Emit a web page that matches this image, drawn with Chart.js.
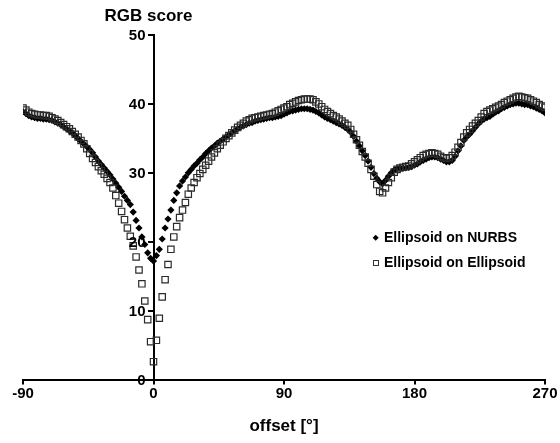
<!DOCTYPE html>
<html>
<head>
<meta charset="utf-8">
<script src="https://cdn.jsdelivr.net/npm/chart.js@4"></script>
<style>
  html, body { margin: 0; padding: 0; background: #fff; }
  #wrap { width: 560px; height: 443px; }
</style>
</head>
<body>
<div id="wrap"><canvas id="rgb-chart"></canvas></div>
<script>
// offset in degrees, one sample every 2°
const offsets = [
  -90, -88, -86, -84, -82, -80, -78, -76, -74, -72, -70, -68, -66, -64, -62, -60,
  -58, -56, -54, -52, -50, -48, -46, -44, -42, -40, -38, -36, -34, -32, -30, -28,
  -26, -24, -22, -20, -18, -16, -14, -12, -10, -8, -6, -4, -2, 0,
  2, 4, 6, 8, 10, 12, 14, 16, 18, 20, 22, 24, 26, 28, 30, 32, 34, 36, 38, 40,
  42, 44, 46, 48, 50, 52, 54, 56, 58, 60, 62, 64, 66, 68, 70, 72, 74, 76, 78, 80,
  82, 84, 86, 88, 90, 92, 94, 96, 98, 100, 102, 104, 106, 108, 110, 112, 114, 116, 118, 120,
  122, 124, 126, 128, 130, 132, 134, 136, 138, 140, 142, 144, 146, 148, 150, 152, 154, 156, 158, 160,
  162, 164, 166, 168, 170, 172, 174, 176, 178, 180, 182, 184, 186, 188, 190, 192, 194, 196, 198, 200,
  202, 204, 206, 208, 210, 212, 214, 216, 218, 220, 222, 224, 226, 228, 230, 232, 234, 236, 238, 240,
  242, 244, 246, 248, 250, 252, 254, 256, 258, 260, 262, 264, 266, 268, 270
];

const onNurbs = [
  38.9, 38.6, 38.3, 38.1, 38.0, 37.9, 37.9, 37.8, 37.8, 37.7, 37.6, 37.4, 37.2, 37.0, 36.7, 36.4,
  36.1, 35.8, 35.4, 35.0, 34.6, 34.2, 33.8, 33.4, 32.9, 32.3, 31.7, 31.2, 30.7, 30.2, 29.7, 29.1,
  28.5, 27.9, 27.3, 26.6, 26.0, 25.4, 24.3, 23.1, 22.0, 20.7, 19.6, 18.4, 17.6, 17.2,
  18.0, 18.9, 20.4, 22.0, 23.3, 24.6, 26.0, 27.1, 28.1, 28.8, 29.4, 30.0, 30.5, 31.0, 31.4, 31.9, 32.3, 32.8, 33.2, 33.6,
  33.9, 34.3, 34.6, 34.9, 35.2, 35.5, 35.8, 36.1, 36.4, 36.6, 36.8, 37.0, 37.2, 37.3, 37.5, 37.6, 37.7, 37.8, 37.9, 38.0,
  38.0, 38.1, 38.2, 38.3, 38.5, 38.7, 38.9, 39.0, 39.1, 39.2, 39.3, 39.3, 39.3, 39.2, 39.1, 38.9, 38.7, 38.4, 38.1, 37.9,
  37.7, 37.5, 37.3, 37.1, 36.9, 36.6, 36.3, 35.9, 35.3, 34.6, 33.9, 33.2, 32.5, 31.7, 30.8, 29.9, 29.2, 28.7, 28.4, 28.9,
  29.5, 30.0, 30.4, 30.6, 30.7, 30.7, 30.7, 30.8, 30.9, 31.1, 31.3, 31.6, 31.8, 32.0, 32.2, 32.3, 32.3, 32.2, 32.0, 31.8,
  31.6, 31.6, 31.8, 32.4, 33.2, 33.9, 34.7, 35.2, 35.6, 36.1, 36.6, 37.1, 37.5, 37.8, 38.0, 38.2, 38.5, 38.8, 39.0, 39.3,
  39.5, 39.7, 39.9, 40.0, 40.1, 40.1, 40.0, 39.9, 39.9, 39.7, 39.6, 39.4, 39.2, 39.0, 38.7
];

const onEllipsoid = [
  39.4, 39.1, 38.8, 38.6, 38.5, 38.4, 38.4, 38.3, 38.3, 38.2, 38.0, 37.8, 37.6, 37.3, 37.0, 36.7,
  36.4, 36.0, 35.6, 35.2, 34.7, 34.2, 33.5, 32.8, 32.1, 31.5, 30.9, 30.3, 29.8, 29.2, 28.6, 27.8,
  26.7, 25.6, 24.4, 23.2, 22.0, 20.8, 19.4, 17.8, 15.9, 13.9, 11.4, 8.7, 5.5, 2.6,
  5.7, 8.9, 12.0, 14.5, 16.7, 18.9, 20.7, 22.2, 23.5, 24.6, 25.7, 26.9, 27.8, 28.6, 29.3, 29.9, 30.5, 31.1, 31.7, 32.3,
  32.9, 33.5, 34.0, 34.5, 35.0, 35.4, 35.8, 36.2, 36.6, 36.9, 37.2, 37.5, 37.7, 37.9, 38.0, 38.1, 38.2, 38.3, 38.4, 38.5,
  38.6, 38.8, 39.0, 39.2, 39.4, 39.6, 39.9, 40.1, 40.3, 40.5, 40.6, 40.7, 40.7, 40.7, 40.6, 40.3, 40.0, 39.6, 39.2, 38.9,
  38.6, 38.3, 38.1, 37.8, 37.5, 37.2, 36.9, 36.3, 35.6, 34.8, 34.0, 33.1, 32.3, 31.4, 30.5, 29.5, 28.3, 27.3, 27.1, 27.8,
  28.6, 29.3, 30.1, 30.5, 30.7, 30.8, 30.9, 31.0, 31.3, 31.6, 31.9, 32.2, 32.5, 32.7, 32.8, 32.9, 32.8, 32.7, 32.4, 32.2,
  32.1, 32.2, 32.5, 33.0, 33.7, 34.4, 35.2, 35.8, 36.3, 36.8, 37.2, 37.6, 38.1, 38.6, 38.9, 39.1, 39.3, 39.5, 39.7, 39.9,
  40.2, 40.4, 40.6, 40.8, 41.0, 41.1, 41.0, 40.9, 40.8, 40.6, 40.4, 40.2, 39.9, 39.7, 39.5
];

const seriesNames = ['Ellipsoid on NURBS', 'Ellipsoid on Ellipsoid'];
const xTicks = [-90, 0, 90, 180, 270];
const yTicks = [0, 10, 20, 30, 40, 50];

const FONT = "'Liberation Sans', Arial, sans-serif";
Chart.defaults.font.family = FONT;
Chart.defaults.color = '#000';

function toPoints(vals) {
  return offsets.map((x, i) => ({ x: x, y: vals[i] }));
}

// y tick labels left of the centred axis, the axis caption and the legend
const decorations = {
  id: 'decorations',
  afterDraw(chart) {
    const ctx = chart.ctx;
    const yScale = chart.scales.y;
    const yAxisX = chart.scales.x.getPixelForValue(0);
    ctx.save();
    ctx.fillStyle = '#000';

    ctx.font = 'bold 15px ' + FONT;
    ctx.textAlign = 'right';
    ctx.textBaseline = 'middle';
    yTicks.forEach(v => {
      ctx.fillText(String(v), yAxisX - 8, yScale.getPixelForValue(v) + 1);
    });

    ctx.font = 'bold 17px ' + FONT;
    ctx.textAlign = 'center';
    ctx.fillText('RGB score', yAxisX - 5, 16);

    ctx.font = 'bold 14px ' + FONT;
    ctx.textAlign = 'left';
    // diamond
    ctx.beginPath();
    ctx.moveTo(375.7, 234.7);
    ctx.lineTo(378.7, 237.7);
    ctx.lineTo(375.7, 240.7);
    ctx.lineTo(372.7, 237.7);
    ctx.closePath();
    ctx.fill();
    ctx.fillText(seriesNames[0], 384, 238);
    // square
    ctx.strokeStyle = '#333';
    ctx.lineWidth = 1;
    ctx.strokeRect(373.5, 260.5, 5, 5);
    ctx.fillText(seriesNames[1], 384, 263.5);
    ctx.restore();
  }
};

new Chart(
  document.getElementById('rgb-chart'),
  {
    type: 'scatter',
    data: {
      datasets: [
        {
          label: seriesNames[0],
          data: toPoints(onNurbs),
          pointStyle: 'rectRot',
          pointRadius: 3.6,
          pointHoverRadius: 3.6,
          backgroundColor: '#000',
          borderColor: '#000',
          borderWidth: 0,
          order: 1
        },
        {
          label: seriesNames[1],
          data: toPoints(onEllipsoid),
          pointStyle: 'rect',
          pointRadius: 4.5,
          pointHoverRadius: 4.5,
          backgroundColor: 'rgba(255,255,255,0)',
          borderColor: '#2b2b2b',
          borderWidth: 1.2,
          order: 0
        }
      ]
    },
    options: {
      responsive: true,
      maintainAspectRatio: false,
      animation: false,
      events: [],
      layout: { padding: { top: 35, left: 23, right: 15, bottom: 4 } },
      plugins: {
        legend: { display: false },
        tooltip: { enabled: false }
      },
      scales: {
        x: {
          type: 'linear',
          min: -90,
          max: 270,
          afterBuildTicks: (axis) => { axis.ticks = xTicks.map(v => ({ value: v })); },
          ticks: { font: { size: 15, weight: 'bold' }, padding: 0, color: '#000' },
          grid: { display: true, drawOnChartArea: false, drawTicks: true, tickLength: 5, color: '#000', lineWidth: 2 },
          border: { display: true, color: '#000', width: 2 },
          title: {
            display: true,
            text: 'offset [°]',
            font: { size: 17, weight: 'bold' },
            color: '#000',
            padding: { top: 14, bottom: 2 }
          }
        },
        y: {
          type: 'linear',
          position: { x: 0 },
          min: 0,
          max: 50,
          afterBuildTicks: (axis) => { axis.ticks = yTicks.map(v => ({ value: v })); },
          ticks: { display: false },
          grid: { display: true, drawOnChartArea: false, drawTicks: true, tickLength: 5, color: '#000', lineWidth: 2 },
          border: { display: true, color: '#000', width: 2 }
        }
      }
    },
    plugins: [decorations]
  }
);
</script>
</body>
</html>
